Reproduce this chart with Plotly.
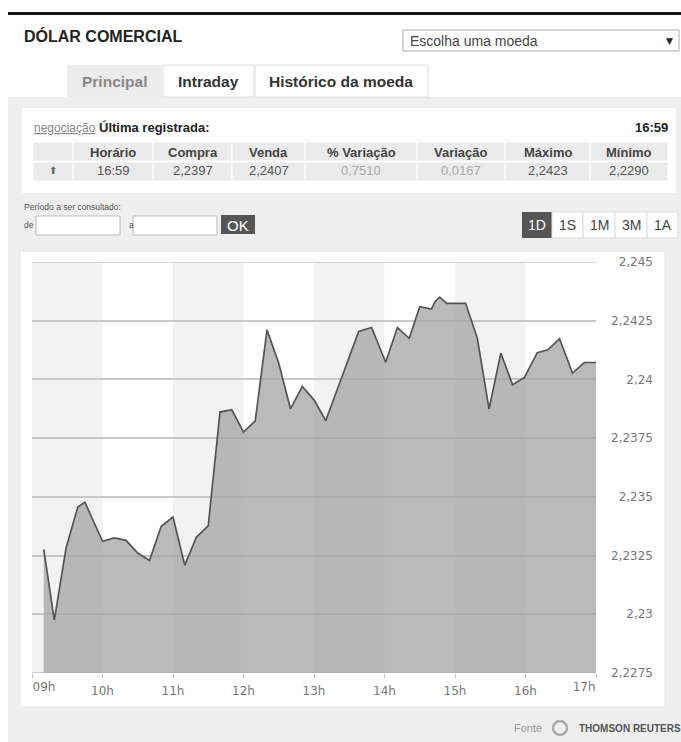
import plotly.graph_objects as go

# ---------------- data ----------------
DAY = "2014-03-14"
times = ["09:10", "09:19", "09:29", "09:39", "09:45", "10:00", "10:10", "10:20", "10:30", "10:40",
         "10:50", "11:00", "11:10", "11:20", "11:30", "11:40", "11:50", "12:00", "12:10", "12:20",
         "12:30", "12:40", "12:50", "13:00", "13:10", "13:38", "13:49", "14:01", "14:11", "14:21",
         "14:30", "14:40", "14:43", "14:47", "14:53", "15:09", "15:19", "15:29", "15:39", "15:49",
         "15:59", "16:10", "16:19", "16:29", "16:40", "16:50", "17:00"]
prices = [2.23276, 2.22975, 2.23283, 2.23457, 2.23477, 2.23311, 2.23325, 2.23315, 2.23261, 2.23229,
          2.23375, 2.23414, 2.23209, 2.23329, 2.23377, 2.23861, 2.23871, 2.23776, 2.23824, 2.24211,
          2.24069, 2.23875, 2.23970, 2.23913, 2.23824, 2.24204, 2.24221, 2.24073, 2.24221, 2.24175,
          2.24310, 2.24300, 2.24331, 2.24350, 2.24324, 2.24324, 2.24175, 2.23874, 2.24112, 2.23977,
          2.24008, 2.24114, 2.24126, 2.24173, 2.24027, 2.24072, 2.24072]

hour_ticks = ["09:00", "10:00", "11:00", "12:00", "13:00", "14:00", "15:00", "16:00", "17:00"]
hour_labels = ["09h", "10h", "11h", "12h", "13h", "14h", "15h", "16h", "17h"]

y_ticks = [2.2275, 2.23, 2.2325, 2.235, 2.2375, 2.24, 2.2425, 2.245]
y_labels = ["2,2275", "2,23", "2,2325", "2,235", "2,2375", "2,24", "2,2425", "2,245"]

table_headers = ["", "Horário", "Compra", "Venda", "% Variação", "Variação", "Máximo", "Mínimo"]
table_values = ["⬆", "16:59", "2,2397", "2,2407", "0,7510", "0,0167", "2,2423", "2,2290"]
table_value_colors = ["#666", "#555", "#555", "#555", "#aaa", "#aaa", "#555", "#555"]

period_buttons = ["1D", "1S", "1M", "3M", "1A"]
tabs = ["Principal", "Intraday", "Histórico da moeda"]

# ---------------- geometry helpers ----------------
W, H = 681, 742
ML, MR, MT, MB = 32, 28, 262, 69
PW = W - ML - MR
PH = H - MT - MB


def px(x):
    return (x - ML) / PW


def py(y):
    return (H - MB - y) / PH


xs = [f"{DAY} {t}" for t in times]
xr = [f"{DAY} {hour_ticks[0]}", f"{DAY} {hour_ticks[-1]}"]
xtv = [f"{DAY} {t}" for t in hour_ticks]
XDOM = (596 - ML) / PW
yr = [y_ticks[0], y_ticks[-1]]

ARIAL = "Liberation Sans, Arial, sans-serif"
DEJAVU = "DejaVu Sans, Verdana, sans-serif"
GRID = "#c8c8c8"

fig = go.Figure()
fig.add_trace(go.Scatter(
    x=xs, y=prices, mode="lines",
    line=dict(color="#555555", width=1.7),
    fill="tozeroy", fillcolor="rgba(163,163,163,0.75)",
    hoverinfo="skip", showlegend=False,
))
# invisible anchors so the overlay label axes get drawn
for xa, ya in (("x2", "y"), ("x3", "y"), ("x", "y2")):
    fig.add_trace(go.Scatter(x=[xs[0]], y=[prices[0]], xaxis=xa, yaxis=ya, mode="markers",
                             marker=dict(opacity=0), hoverinfo="skip", showlegend=False))

shapes = []
annotations = []


def rect(x0, y0, x1, y1, fill, line=None, lw=1, layer="below"):
    shapes.append(dict(type="rect", xref="paper", yref="paper",
                       x0=px(x0), x1=px(x1), y0=py(y0), y1=py(y1),
                       fillcolor=fill, layer=layer,
                       line=dict(color=line if line else "rgba(0,0,0,0)", width=lw if line else 0)))


def text(s, x, y, size, color, xanchor="left", family=ARIAL, bold=False):
    annotations.append(dict(text=f"<b>{s}</b>" if bold else s, x=px(x), y=py(y),
                            xref="paper", yref="paper", xanchor=xanchor, yanchor="middle",
                            showarrow=False, font=dict(family=family, size=size, color=color)))


# page frame
rect(8, 12, 681, 15, "#111111")
rect(8, 97, 681, 742, "#efefef")
# header
text("DÓLAR COMERCIAL", 22, 36, 16, "#222", bold=True)
rect(403, 30, 679, 51, "#ffffff", "#aaaaaa")
text("Escolha uma moeda", 408, 41, 14, "#444")
text("▼", 670, 41, 9, "#222", xanchor="center", family=DEJAVU)
# tabs
tab_edges = [67, 162, 254, 428]
tab_fill = ["#ececec", "#ffffff", "#ffffff"]
tab_line = [None, "#dedede", "#dedede"]
tab_color = ["#888", "#333", "#333"]
for i, t in enumerate(tabs):
    rect(tab_edges[i] + (0 if i == 0 else 1), 65, tab_edges[i + 1], 97, tab_fill[i], tab_line[i])
    text(t, (tab_edges[i] + tab_edges[i + 1]) / 2, 81, 15.5, tab_color[i], xanchor="center", bold=True)

# quote box
rect(22, 108, 676, 193, "#ffffff")
text("<u>negociação</u>", 32, 128, 12, "#888")
text("Última registrada:", 97, 128, 13, "#222", bold=True)
text("16:59", 670, 127, 13, "#222", xanchor="right", bold=True)
col_edges = [33, 73, 153, 232, 305, 417, 505, 590, 668]
for i in range(len(table_headers)):
    x0, x1 = col_edges[i], col_edges[i + 1]
    rect(x0, 142, x1, 161, "#ebebeb", "#ffffff", 1)
    rect(x0, 162, x1, 181, "#ebebeb", "#ffffff", 1)
    cx = (x0 + x1) / 2
    if table_headers[i]:
        text(table_headers[i], cx, 152, 13, "#444", xanchor="center", bold=True)
    fam = DEJAVU if i == 0 else ARIAL
    text(table_values[i], cx, 171, 10 if i == 0 else 13, table_value_colors[i], xanchor="center", family=fam)

# period inputs
text("Período a ser consultado:", 22, 207, 8.5, "#555")
text("de", 22, 225, 8.5, "#555")
rect(36, 216, 120, 235, "#ffffff", "#bbbbbb")
text("a", 127, 225, 8.5, "#555")
rect(133, 216, 217, 235, "#ffffff", "#bbbbbb")
rect(221, 215, 255, 234, "#555555")
text("OK", 238, 225, 15, "#ffffff", xanchor="center")
btn_edges = [522, 552, 583, 615, 647, 678]
for i, b in enumerate(period_buttons):
    active = i == 0
    rect(btn_edges[i], 212, btn_edges[i + 1], 238, "#555555" if active else "#ffffff",
         None if active else "#dddddd")
    text(b, (btn_edges[i] + btn_edges[i + 1]) / 2, 225, 14, "#ffffff" if active else "#444",
         xanchor="center")

# chart card
rect(20, 251, 665, 707, "#ffffff", "#e4e4e4")

# alternating hour bands
for i in range(0, len(hour_ticks) - 1, 2):
    shapes.append(dict(type="rect", xref="x", yref="y",
                       x0=xtv[i], x1=xtv[i + 1], y0=y_ticks[0], y1=y_ticks[-1],
                       fillcolor="#f2f2f2", line=dict(width=0), layer="below"))
# gridlines on the two range edges (plotly drops these)
for yv in (y_ticks[0], y_ticks[-1]):
    shapes.append(dict(type="line", xref="x", yref="y", x0=xr[0], x1=xr[1], y0=yv, y1=yv,
                       line=dict(color=GRID, width=1.5), layer="between"))

# footer
text("Fonte", 528, 728, 11, "#999", xanchor="center")
shapes.append(dict(type="circle", xref="paper", yref="paper",
                   x0=px(553), x1=px(567), y0=py(735), y1=py(721),
                   line=dict(color="#aaaaaa", width=2.5), fillcolor="rgba(0,0,0,0)"))
text("THOMSON REUTERS", 577, 728, 10, "#555", bold=True)

tickfont = dict(family=DEJAVU, size=12, color="#777")
main_text = [""] + hour_labels[1:-1] + [""]

common_x = dict(type="date", range=xr, ticks="outside", ticklen=4, tickfont=tickfont,
                ticklabelstandoff=3, showgrid=False, zeroline=False, showline=False)

fig.update_layout(
    width=W, height=H,
    margin=dict(l=ML, r=MR, t=MT, b=MB, pad=0),
    paper_bgcolor="#ffffff", plot_bgcolor="rgba(0,0,0,0)",
    separators=",.",
    showlegend=False,
    shapes=shapes, annotations=annotations,
    xaxis=dict(common_x, domain=[0, XDOM], tickvals=xtv, ticktext=main_text, tickcolor="#c4c4c4"),
    xaxis2=dict(common_x, overlaying="x", anchor="y", side="bottom",
                tickvals=xtv[:1], ticktext=hour_labels[:1], ticklabelposition="outside right",
                tickcolor="rgba(0,0,0,0)"),
    xaxis3=dict(common_x, overlaying="x", anchor="y", side="bottom",
                tickvals=xtv[-1:], ticktext=hour_labels[-1:], ticklabelposition="outside left",
                tickcolor="rgba(0,0,0,0)"),
    yaxis=dict(range=yr, tickvals=y_ticks, showticklabels=False,
               showgrid=True, gridcolor=GRID, gridwidth=1.5, zeroline=False, showline=False),
    yaxis2=dict(range=yr, overlaying="y", anchor="free", position=1,
                side="left", tickvals=y_ticks, ticktext=y_labels, ticks="", tickfont=tickfont,
                showgrid=False, zeroline=False, showline=False),
)

fig.write_html("out.html", config={"displayModeBar": False},
               post_script="document.body.style.margin='0px';")
